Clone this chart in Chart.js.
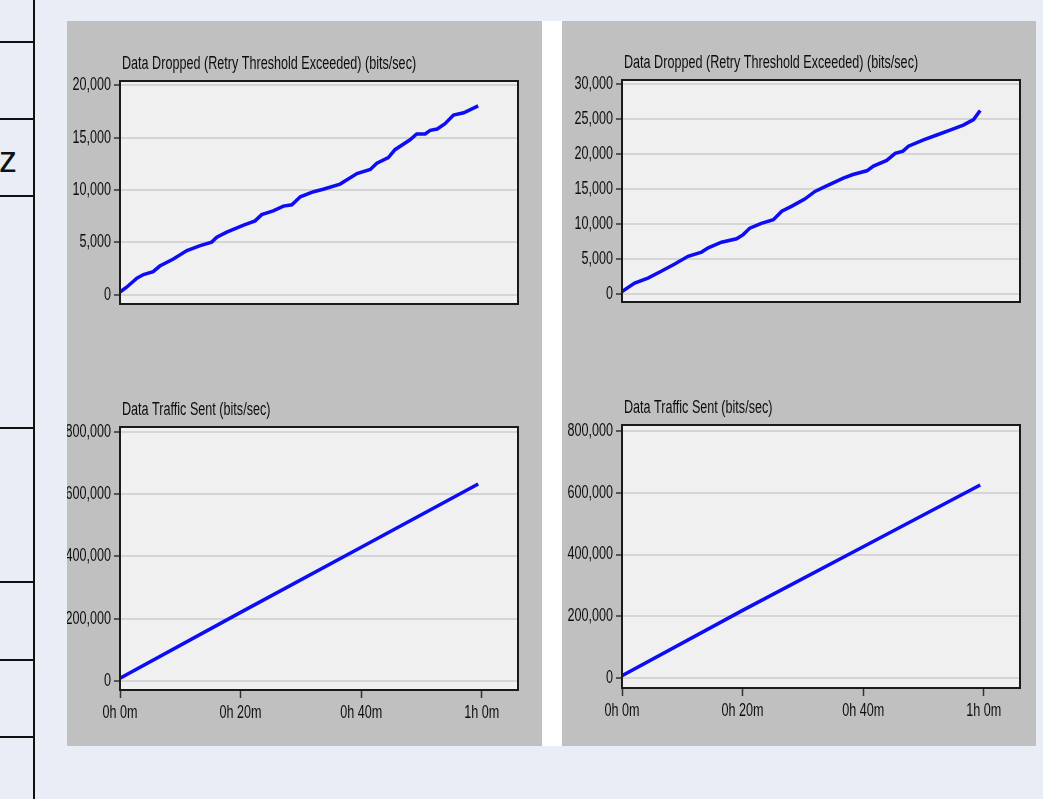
<!DOCTYPE html>
<html>
<head>
<meta charset="utf-8">
<title>Data Dropped / Data Traffic Sent</title>
<script src="https://cdn.jsdelivr.net/npm/chart.js@4.4.1/dist/chart.umd.min.js"></script>
<style>
    html, body { margin: 0; padding: 0; }
    body {
        width: 1043px;
        height: 799px;
        overflow: hidden;
        position: relative;
        background: #e9edf5;
        font-family: 'Liberation Sans', Arial, sans-serif;
    }
    .rule { position: absolute; background: #111; }
    .cell-text { position: absolute; left: -1px; top: 140px; font-size: 36px; line-height: 40px; color: #111; }
    .panel { position: absolute; top: 21px; height: 725px; background: #c0c0c0; }
    .gap { position: absolute; top: 21px; height: 725px; left: 542px; width: 20px; background: #ffffff; }
    .chart-box { position: absolute; }
</style>
</head>
<body>

<!-- table fragment on the left edge -->
<div class="rule" style="left:33px;top:0;width:2px;height:799px"></div>
<div class="rule" style="left:0;top:41px;width:35px;height:2px"></div>
<div class="rule" style="left:0;top:118px;width:35px;height:2px"></div>
<div class="rule" style="left:0;top:195px;width:35px;height:2px"></div>
<div class="rule" style="left:0;top:427px;width:35px;height:2px"></div>
<div class="rule" style="left:0;top:581px;width:35px;height:2px"></div>
<div class="rule" style="left:0;top:659px;width:35px;height:2px"></div>
<div class="rule" style="left:0;top:736px;width:35px;height:2px"></div>
<div class="cell-text">z</div>

<div class="panel" style="left:67px;width:475px"></div>
<div class="gap"></div>
<div class="panel" style="left:562px;width:474px"></div>

<div class="chart-box" style="left:67px;top:21px"><canvas id="droppedLeft" width="475" height="340"></canvas></div>
<div class="chart-box" style="left:67px;top:370px"><canvas id="sentLeft" width="475" height="376"></canvas></div>
<div class="chart-box" style="left:562px;top:21px"><canvas id="droppedRight" width="474" height="340"></canvas></div>
<div class="chart-box" style="left:562px;top:370px"><canvas id="sentRight" width="474" height="376"></canvas></div>

<script>
// time axis (minutes)
const timeTicks = [0, 20, 40, 60];
const timeTickLabels = ['0h 0m', '0h 20m', '0h 40m', '1h 0m'];

// Data Dropped (Retry Threshold Exceeded), left run
const droppedTimesLeft = [0, 1.1, 2.8, 3.9, 5.5, 6.6, 8.85, 11.1, 13.3, 15.2, 16.05, 17.7, 20.5, 22.4, 23.5, 25.4, 27.1, 28.5, 29.9, 32.1, 33.7, 36.5, 39.3, 41.5, 42.6, 44.5, 45.6, 48.1, 49.2, 50.6, 51.45, 52.6, 53.9, 55.3, 57, 59.4];
const droppedLeft = [250, 705, 1570, 1920, 2190, 2730, 3400, 4210, 4680, 5020, 5490, 5970, 6650, 7050, 7650, 8000, 8460, 8590, 9350, 9840, 10080, 10570, 11570, 11970, 12560, 13110, 13860, 14810, 15360, 15360, 15710, 15840, 16350, 17170, 17390, 18050];

// Data Dropped (Retry Threshold Exceeded), right run
const droppedTimesRight = [0, 2.1, 4.3, 6.5, 8.75, 10.95, 13.2, 14.3, 16.5, 19, 20.1, 21.2, 23.1, 25.1, 26.5, 28.1, 30.3, 32, 33.5, 36.7, 38.3, 40.6, 41.7, 43.9, 45.3, 46.6, 47.5, 50, 52.2, 54.4, 56.6, 58.3, 59.4];
const droppedRight = [280, 1490, 2210, 3180, 4230, 5320, 5930, 6530, 7330, 7820, 8420, 9350, 10040, 10560, 11770, 12460, 13500, 14590, 15200, 16490, 17010, 17540, 18220, 19030, 20030, 20360, 21050, 21970, 22660, 23350, 24070, 24870, 26170];

// Data Traffic Sent
const sentTimes = [0, 20, 40, 59.4];
const sentLeft = [8000, 220000, 430000, 633500];
const sentRight = [7400, 219000, 425000, 625300];

// y tick values
const droppedTicksLeft = [0, 5000, 10000, 15000, 20000];
const droppedTicksRight = [0, 5000, 10000, 15000, 20000, 25000, 30000];
const sentTicks = [0, 200000, 400000, 600000, 800000];

document.addEventListener('DOMContentLoaded', function() {
    // the original uses a tall, narrow face: squeeze Liberation Sans to match
    const labelFont = "15px 'Liberation Sans', Arial, sans-serif";
    const squeezeX = 0.84;
    const stretchY = 1.2;
    const textColor = '#0d0d0d';
    const numberFormatter = new Intl.NumberFormat('en-US');

    function drawLabel(ctx, text, x, y, align) {
        ctx.save();
        ctx.translate(x, y);
        ctx.scale(squeezeX, stretchY);
        ctx.font = labelFont;
        ctx.fillStyle = textColor;
        ctx.textAlign = align;
        ctx.textBaseline = 'middle';
        ctx.fillText(text, 0, 0);
        ctx.restore();
    }

    // plot background, black frame, title and axis labels
    const framePlugin = {
        id: 'frame',
        beforeDraw: function(chart) {
            const a = chart.chartArea;
            const ctx = chart.ctx;
            ctx.save();
            ctx.fillStyle = '#f0f0f0';
            ctx.fillRect(a.left, a.top, a.right - a.left, a.bottom - a.top);
            ctx.restore();
        },
        afterDraw: function(chart) {
            const a = chart.chartArea;
            const ctx = chart.ctx;
            ctx.save();
            ctx.strokeStyle = '#1a1a1a';
            ctx.lineWidth = 2;
            ctx.strokeRect(a.left, a.top, a.right - a.left, a.bottom - a.top);
            ctx.restore();

            drawLabel(ctx, chart.options.plugins.frame.title, a.left + 2, a.top - 16.5, 'left');

            const yScale = chart.scales.y;
            yScale.ticks.forEach(function(t) {
                drawLabel(ctx, numberFormatter.format(t.value), a.left - 9, yScale.getPixelForValue(t.value), 'right');
            });

            const xScale = chart.scales.x;
            if (xScale.options.display) {
                xScale.ticks.forEach(function(t) {
                    const i = timeTicks.indexOf(t.value);
                    drawLabel(ctx, timeTickLabels[i], xScale.getPixelForValue(t.value), a.bottom + 23.5, 'center');
                });
            }
        }
    };

    function toPoints(times, values) {
        return times.map(function(t, i) {
            return { x: t, y: values[i] };
        });
    }

    function makeChart(id, opts) {
        const ctx = document.getElementById(id);
        return new Chart(ctx, {
            type: 'line',
            data: {
                datasets: [{
                    data: toPoints(opts.times, opts.values),
                    borderColor: '#0c0cf5',
                    borderWidth: 3.5,
                    pointRadius: 0,
                    tension: 0,
                    fill: false
                }]
            },
            options: {
                responsive: false,
                animation: false,
                layout: { padding: opts.padding },
                plugins: {
                    legend: { display: false },
                    tooltip: { enabled: false },
                    frame: { title: opts.title }
                },
                scales: {
                    x: {
                        type: 'linear',
                        min: 0,
                        max: 66,
                        display: opts.showTime,
                        border: { display: false },
                        grid: {
                            drawOnChartArea: false,
                            drawTicks: true,
                            tickLength: 8,
                            tickColor: '#333',
                            tickWidth: 1.5
                        },
                        afterBuildTicks: function(axis) {
                            axis.ticks = timeTicks.map(function(v) { return { value: v }; });
                        },
                        afterFit: function(axis) {
                            axis.height = 40;
                        },
                        ticks: { display: false }
                    },
                    y: {
                        type: 'linear',
                        min: opts.min,
                        max: opts.max,
                        border: { display: false },
                        grid: {
                            color: '#d5d5d5',
                            lineWidth: 2,
                            tickLength: 6,
                            tickColor: '#333',
                            tickWidth: 1.5
                        },
                        afterBuildTicks: function(axis) {
                            axis.ticks = opts.ticks.map(function(v) { return { value: v }; });
                        },
                        afterFit: function(axis) {
                            axis.width = opts.axisWidth;
                        },
                        ticks: { display: false }
                    }
                }
            },
            plugins: [framePlugin]
        });
    }

    makeChart('droppedLeft', {
        title: 'Data Dropped (Retry Threshold Exceeded) (bits/sec)',
        times: droppedTimesLeft, values: droppedLeft, ticks: droppedTicksLeft,
        min: -900, max: 20430, axisWidth: 53, showTime: false,
        padding: { left: 0, top: 60, right: 24, bottom: 17 }
    });

    makeChart('sentLeft', {
        title: 'Data Traffic Sent (bits/sec)',
        times: sentTimes, values: sentLeft, ticks: sentTicks,
        min: -30000, max: 817000, axisWidth: 53, showTime: true,
        padding: { left: 0, top: 57, right: 24, bottom: 16 }
    });

    makeChart('droppedRight', {
        title: 'Data Dropped (Retry Threshold Exceeded) (bits/sec)',
        times: droppedTimesRight, values: droppedRight, ticks: droppedTicksRight,
        min: -1210, max: 30520, axisWidth: 60, showTime: false,
        padding: { left: 0, top: 59, right: 16, bottom: 19 }
    });

    makeChart('sentRight', {
        title: 'Data Traffic Sent (bits/sec)',
        times: sentTimes, values: sentRight, ticks: sentTicks,
        min: -32350, max: 819400, axisWidth: 60, showTime: true,
        padding: { left: 0, top: 55, right: 16, bottom: 18 }
    });
});
</script>
</body>
</html>
